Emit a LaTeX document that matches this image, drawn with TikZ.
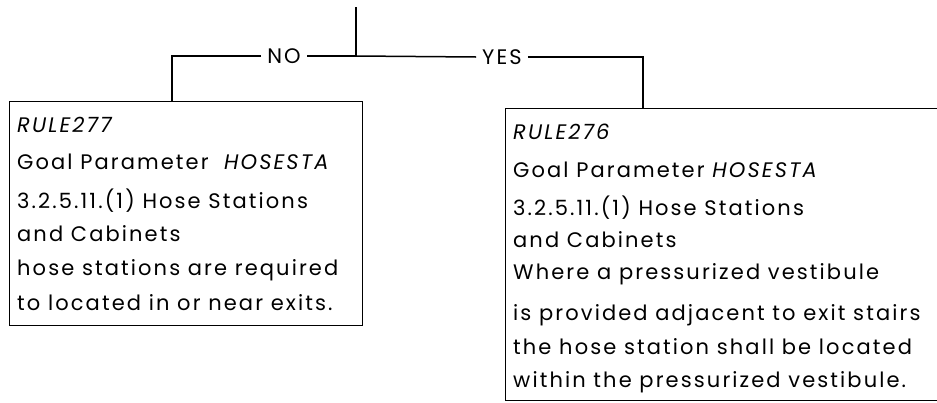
\documentclass[tikz,border=0pt]{standalone}
\usepackage{fontspec}
\setmainfont{Poppins}[LetterSpace=10]
\usetikzlibrary{positioning}
\usetikzlibrary{calc}

\tikzset{
  rulebox/.style={draw, line width=1.3pt, anchor=north west, inner sep=0pt},
  ruletext/.style={anchor=north west, align=left, inner sep=0pt,
    font=\fontsize{21}{34}\selectfont},
  answer/.style={inner sep=6pt, font=\fontsize{21}{21}\selectfont},
  link/.style={line width=1.5pt}
}

\begin{document}
\begin{tikzpicture}[x=1pt,y=-1pt]
\useasboundingbox (0,0) rectangle (937,402);

\coordinate (top) at (356,7);
\coordinate (fork) at (356,56);
\node[answer](no) at (284,56){NO};
\node[answer](yes) at (502,57){YES};
\coordinate (noturn) at (172,56);
\coordinate (yesturn) at (643,57);

\node[rulebox, minimum width=353pt, minimum height=224pt](r277) at (9,101){};
\node[rulebox, minimum width=440pt, minimum height=292pt](r276) at (505,108){};

\node[ruletext](r277text) at ($(r277.north west)+(8,16)$){%
\textit{RULE277}\\[3pt]
Goal Parameter \ \textit{HOSESTA}\\[5pt]
3.2.5.11.(1) Hose Stations\\[-1pt]
and Cabinets\\
hose stations are required\\[1pt]
to located in or near exits.};

\node[ruletext](r276text) at ($(r276.north west)+(8,16)$){%
\textit{RULE276}\\[4pt]
Goal Parameter \textit{HOSESTA}\\[4pt]
3.2.5.11.(1) Hose Stations\\[-2pt]
and Cabinets\\[-2pt]
Where a pressurized vestibule\\[7pt]
is provided adjacent to exit stairs\\
the hose station shall be located\\[-1pt]
within the pressurized vestibule.};

\draw[link] (top) -- (fork);
\draw[link] (fork) -- (no.east);
\draw[link] (no.west) -- (noturn) -- (noturn |- r277.north);
\draw[link] (fork) -- (yes.west);
\draw[link] (yes.east) -- (yesturn) -- (yesturn |- r276.north);
\end{tikzpicture}
\end{document}
